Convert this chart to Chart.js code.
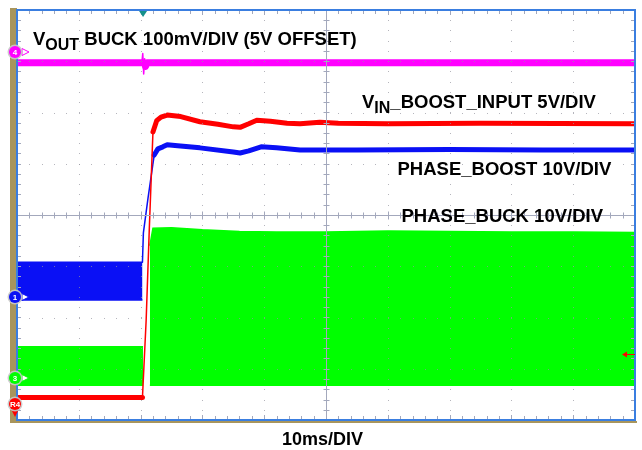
<!DOCTYPE html>
<html>
<head>
<meta charset="utf-8">
<script src="https://cdn.jsdelivr.net/npm/chart.js@4.4.1/dist/chart.umd.min.js"></script>
<style>
html, body { margin: 0; padding: 0; background: #fff; }
#wrap { position: relative; width: 642px; height: 450px; overflow: hidden; }
#scope { position: absolute; left: 0; top: 0; }
.lbl { position: absolute; font-family: "Liberation Sans", Arial, sans-serif; font-weight: bold;
       font-size: 18.5px; line-height: 1; white-space: nowrap; color: #000; }
.lbl .sub { position: relative; top: 5px; font-size: 16px; }
</style>
</head>
<body>
<div id="wrap">
  <canvas id="scope" width="642" height="450"></canvas>
  <div class="lbl" style="left:33px;top:29.5px">V<span class="sub">OUT</span> BUCK 100mV/DIV (5V OFFSET)</div>
  <div class="lbl" style="left:362px;top:92.5px">V<span class="sub">IN</span>_BOOST_INPUT 5V/DIV</div>
  <div class="lbl" style="left:397.5px;top:159.5px">PHASE_BOOST 10V/DIV</div>
  <div class="lbl" style="left:401.5px;top:206.5px">PHASE_BUCK 10V/DIV</div>
  <div class="lbl" style="left:0;width:645px;text-align:center;top:430px;font-size:18px">10ms/DIV</div>
</div>
<script>
//time axis in ms (10ms/div, 10 divs), values in divisions from screen centre

//VOUT buck, ch4 (magenta)
const voutT   = [0, 20.2, 20.35, 20.5, 20.65, 20.8, 21.0, 100];
const voutDiv = [2.97, 2.97, 3.15, 2.75, 3.05, 2.9, 2.97, 2.97];

//VIN boost input (red)
const vinT   = [0, 20.3, 20.9, 21.4, 22.0, 22.6, 23.3, 24.3, 26.5, 29.6, 32.5, 35.0, 36.1, 37.5, 38.8, 41.0, 43.7, 45.8, 49.0, 52.0, 60.0, 75.0, 100];
const vinDiv = [-3.56, -3.56, -2.05, -0.3, 1.62, 1.84, 1.91, 1.95, 1.92, 1.82, 1.77, 1.72, 1.71, 1.78, 1.85, 1.83, 1.79, 1.78, 1.81, 1.79, 1.78, 1.79, 1.78];

//PHASE_BOOST ch1 (blue): switching envelope before start, then dc level
const boostPreT   = [0, 20.3];
const boostPreTop = [-0.92, -0.92];
const boostPreBot = [-1.66, -1.66];
const boostT   = [20.3, 20.45, 21.2, 22.2, 22.8, 23.6, 24.3, 26.0, 29.6, 35.0, 36.1, 37.5, 39.5, 42.0, 45.8, 55, 70, 85, 100];
const boostDiv = [-0.92, -0.35, 0.33, 1.17, 1.29, 1.33, 1.37, 1.35, 1.31, 1.23, 1.21, 1.25, 1.33, 1.31, 1.27, 1.27, 1.28, 1.27, 1.27];

//PHASE_BUCK ch3 (green): switching envelopes
const buckPreT   = [0, 20.4];
const buckPreTop = [-2.57, -2.57];
const buckPreBot = [-3.32, -3.32];
const buckT   = [21.5, 22.0, 25, 30, 36, 42, 50, 60, 70, 80, 90, 100];
const buckTop = [-0.6, -0.26, -0.25, -0.29, -0.32, -0.33, -0.33, -0.31, -0.32, -0.33, -0.33, -0.34];
const buckBot = [-3.32, -3.32, -3.32, -3.32, -3.32, -3.32, -3.32, -3.32, -3.32, -3.32, -3.32, -3.32];

const MAGENTA = '#ff00ff', RED = '#ff0000', BLUE = '#0a10f5', GREEN = '#00ff00';

function pts(t, v) {
    return t.map((x, i) => ({ x: x, y: v[i] }));
}

//thin stroke on fast edges, thick on the noisy flat parts
function edgeWidth(thick) {
    return ctx => {
        const dx = Math.abs(ctx.p1.x - ctx.p0.x), dy = Math.abs(ctx.p1.y - ctx.p0.y);
        return dy > 4 * dx ? 1.5 : thick;
    };
}

function trace(data, color, width, order) {
    return {
        data, borderColor: color, borderWidth: width, pointRadius: 0, tension: 0,
        borderJoinStyle: 'round', borderCapStyle: 'round',
        fill: false, order, segment: { borderWidth: edgeWidth(width) }
    };
}

function band(data, color, order, fill) {
    return {
        data, borderColor: color, backgroundColor: color, borderWidth: 1.5,
        pointRadius: 0, tension: 0, fill: fill, order
    };
}

//graticule: dotted divisions, centre cross, edge ticks, frame
const graticule = {
    id: 'graticule',
    afterDatasetsDraw(chart) {
        const { ctx, chartArea: a, scales: { x, y } } = chart;
        ctx.save();
        ctx.fillStyle = 'rgba(150,150,160,0.7)';
        for (let t = 10; t < 100; t += 10) {
            if (t === 50) continue;
            const px = Math.round(x.getPixelForValue(t));
            for (let v = -4; v <= 4.001; v += 0.2) ctx.fillRect(px, Math.round(y.getPixelForValue(v)), 1, 1);
        }
        for (let v = -3; v <= 3; v++) {
            if (v === 0) continue;
            const py = Math.round(y.getPixelForValue(v));
            for (let t = 0; t <= 100.001; t += 2) ctx.fillRect(Math.round(x.getPixelForValue(t)), py, 1, 1);
        }
        //centre cross
        const cx = Math.round(x.getPixelForValue(50)) + 0.5, cy = Math.round(y.getPixelForValue(0)) + 0.5;
        ctx.strokeStyle = '#a3a8bc';
        ctx.lineWidth = 1;
        ctx.beginPath();
        ctx.moveTo(a.left, cy); ctx.lineTo(a.right, cy);
        ctx.moveTo(cx, a.top); ctx.lineTo(cx, a.bottom);
        for (let t = 0; t <= 100.001; t += 2) {
            const px = Math.round(x.getPixelForValue(t)) + 0.5;
            const len = (Math.round(t) % 10 === 0) ? 4 : 3;
            ctx.moveTo(px, cy - len); ctx.lineTo(px, cy + len);
            ctx.moveTo(px, a.top); ctx.lineTo(px, a.top + len + 1);
            ctx.moveTo(px, a.bottom); ctx.lineTo(px, a.bottom - len - 1);
        }
        for (let v = -4; v <= 4.001; v += 0.2) {
            const py = Math.round(y.getPixelForValue(v)) + 0.5;
            ctx.moveTo(cx - 3, py); ctx.lineTo(cx + 3, py);
            ctx.moveTo(a.left, py); ctx.lineTo(a.left + 4, py);
            ctx.moveTo(a.right, py); ctx.lineTo(a.right - 4, py);
        }
        ctx.stroke();
        ctx.restore();
    },
    afterDraw(chart) {
        const { ctx, chartArea: a, scales: { x, y } } = chart;
        ctx.save();
        //tan side strip
        ctx.fillStyle = '#a8955c';
        ctx.fillRect(a.left - 7, a.top - 2, 7, a.bottom - a.top + 5);
        ctx.fillRect(a.left - 7, a.bottom + 1, a.right - a.left + 9, 2);
        //blue frame
        ctx.strokeStyle = '#3a7ee0';
        ctx.lineWidth = 2;
        ctx.strokeRect(a.left, a.top, a.right - a.left, a.bottom - a.top);

        //trigger position marker
        const tx = x.getPixelForValue(20.4);
        ctx.fillStyle = '#15908a';
        ctx.beginPath();
        ctx.moveTo(tx - 4, a.top + 1); ctx.lineTo(tx + 4, a.top + 1); ctx.lineTo(tx, a.top + 7);
        ctx.closePath(); ctx.fill();

        //trigger level arrow on right edge
        ctx.strokeStyle = RED; ctx.fillStyle = RED; ctx.lineWidth = 1;
        const ly = 354.5;
        ctx.beginPath(); ctx.moveTo(a.right - 12, ly); ctx.lineTo(a.right, ly); ctx.stroke();
        ctx.beginPath(); ctx.moveTo(a.right - 13, ly); ctx.lineTo(a.right - 8, ly - 3); ctx.lineTo(a.right - 8, ly + 3);
        ctx.closePath(); ctx.fill();

        //channel ground markers
        function marker(cy, color, label, down) {
            const cx = 15;
            if (down) {
                ctx.fillStyle = color;
                ctx.beginPath(); ctx.moveTo(cx - 3.5, cy + 6); ctx.lineTo(cx + 3.5, cy + 6); ctx.lineTo(cx, cy + 13);
                ctx.closePath(); ctx.fill();
            } else {
                ctx.strokeStyle = color; ctx.fillStyle = '#fff'; ctx.lineWidth = 1;
                ctx.beginPath(); ctx.moveTo(cx + 7, cy - 3.5); ctx.lineTo(cx + 14, cy); ctx.lineTo(cx + 7, cy + 3.5);
                ctx.closePath(); ctx.fill(); ctx.stroke();
            }
            ctx.beginPath(); ctx.arc(cx, cy, 7.5, 0, Math.PI * 2);
            ctx.fillStyle = 'rgba(200,200,200,0.9)'; ctx.fill();
            ctx.beginPath(); ctx.arc(cx, cy, 6, 0, Math.PI * 2);
            ctx.fillStyle = color; ctx.fill();
            ctx.fillStyle = '#fff';
            ctx.font = 'bold 8px "Liberation Sans", Arial, sans-serif';
            ctx.textAlign = 'center'; ctx.textBaseline = 'middle';
            ctx.fillText(label, cx, cy + 0.5);
        }
        marker(52, MAGENTA, '4', false);
        marker(297, BLUE, '1', false);
        marker(378, GREEN, '3', false);
        marker(404, RED, 'R4', true);
        ctx.restore();
    }
};

new Chart(document.getElementById('scope'), {
    type: 'line',
    data: {
        datasets: [
            trace(pts(voutT, voutDiv), MAGENTA, 7, 0),
            trace(pts(vinT, vinDiv), RED, 5, 1),
            trace(pts(boostT, boostDiv), BLUE, 5, 2),
            band(pts(boostPreT, boostPreTop), BLUE, 3, '+1'),
            band(pts(boostPreT, boostPreBot), BLUE, 3, false),
            band(pts(buckPreT, buckPreTop), GREEN, 4, '+1'),
            band(pts(buckPreT, buckPreBot), GREEN, 4, false),
            band(pts(buckT, buckTop), GREEN, 4, '+1'),
            band(pts(buckT, buckBot), GREEN, 4, false)
        ]
    },
    options: {
        responsive: false,
        animation: false,
        devicePixelRatio: 1,
        events: [],
        layout: { padding: { left: 17, right: 7, top: 10, bottom: 30 } },
        scales: {
            x: { type: 'linear', min: 0, max: 100, display: false },
            y: { type: 'linear', min: -4, max: 4, display: false }
        },
        plugins: { legend: { display: false }, tooltip: { enabled: false }, title: { display: false } }
    },
    plugins: [graticule]
});
</script>
</body>
</html>
